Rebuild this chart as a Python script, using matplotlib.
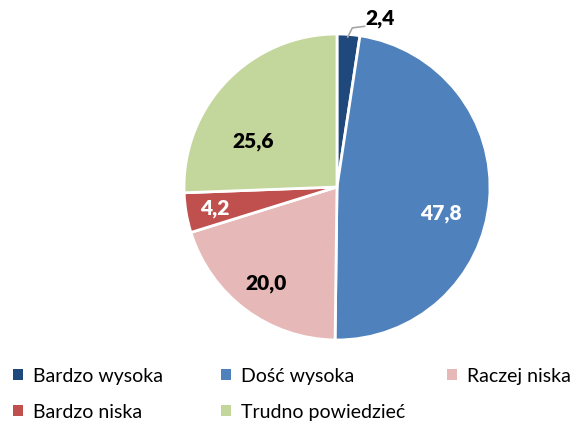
import matplotlib
matplotlib.use("Agg")
import matplotlib.pyplot as plt
from matplotlib.patches import Patch
import numpy as np

categories = ["Bardzo wysoka", "Dość wysoka", "Raczej niska", "Bardzo niska", "Trudno powiedzieć"]
values = [2.4, 47.8, 20.0, 4.2, 25.6]
colors = ["#1F497D", "#4F81BD", "#E6B9B8", "#C0504D", "#C3D69B"]
label_colors = ["black", "white", "black", "white", "black"]
label_radius = [1.15, 0.70, 0.78, 0.81, 0.63]
label_angle_offset = [0, -9, 0, 0, 15]

plt.rcParams['font.family'] = ['Lato', 'DejaVu Sans']

fig = plt.figure(figsize=(5.77, 4.27), dpi=100)
W, H = 577, 427
cx, cy, r = 337, 188, 153
ax = fig.add_axes([(cx - r) / W, (H - cy - r) / H, 2 * r / W, 2 * r / H])
wedges, _ = ax.pie(values, colors=colors, startangle=90, counterclock=False,
                   wedgeprops=dict(edgecolor="white", linewidth=2))
ax.set_xlim(-1, 1)
ax.set_ylim(-1, 1)
ax.set_aspect("equal")
ax.axis("off")

for i, w in enumerate(wedges):
    mid = np.deg2rad((w.theta1 + w.theta2) / 2 + label_angle_offset[i])
    x, y = label_radius[i] * np.cos(mid), label_radius[i] * np.sin(mid)
    txt = f"{values[i]:.1f}".replace(".", ",")
    if i == 0:
        ax.text(x + 0.1, y - 0.04, txt, ha="left", va="center", fontsize=15, fontweight="heavy",
                color=label_colors[i], clip_on=False)
        ax.plot([0.07, 0.1, 0.18], [0.98, 1.04, 1.05], color="#A6A6A6", lw=1.2, clip_on=False)
    else:
        ax.text(x, y, txt, ha="center", va="center", fontsize=15, fontweight="heavy",
                color=label_colors[i])

# legend laid out row by row in three columns
columns = [[0, 3], [1, 4], [2]]
col_x = [13, 221, 447]
for col, xpix in zip(columns, col_x):
    handles = [Patch(facecolor=colors[k], edgecolor="none") for k in col]
    labels = [categories[k] for k in col]
    leg = fig.legend(handles, labels, loc="upper left",
                     bbox_to_anchor=(xpix / W, 1 - 368 / H), frameon=False,
                     fontsize=14, handlelength=0.5, handleheight=0.5,
                     handletextpad=0.55, labelspacing=1.0, borderpad=0, borderaxespad=0)

fig.savefig("out.png", dpi=100)
